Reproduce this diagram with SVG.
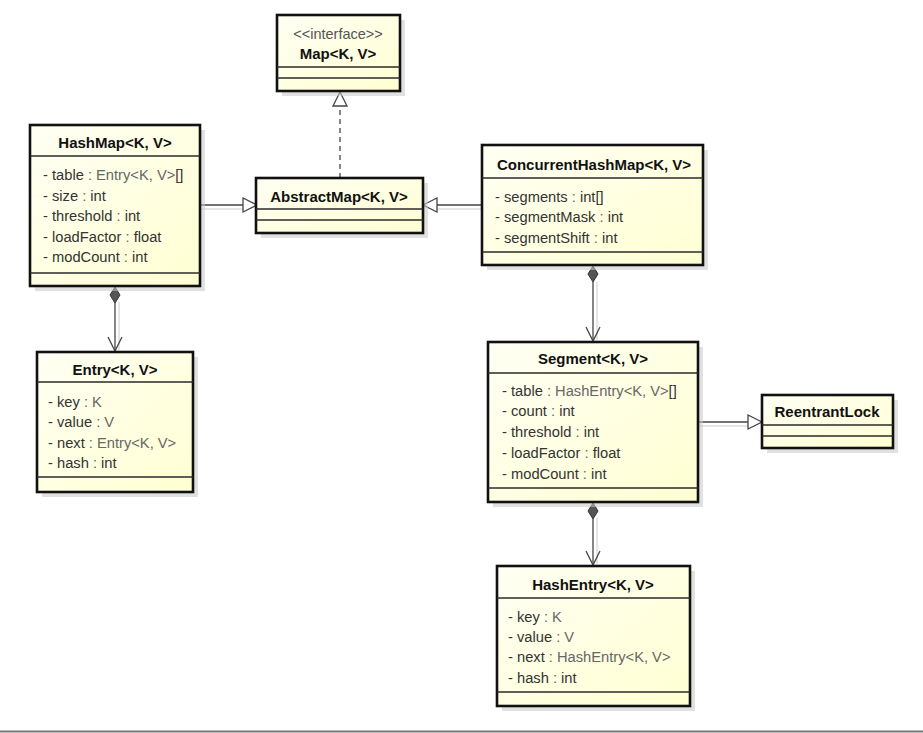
<svg xmlns="http://www.w3.org/2000/svg" width="923" height="733" viewBox="0 0 923 733">
<style>
.box{fill:url(#fill);stroke:#111;stroke-width:2.6}
.shadow{fill:#c8c8c8;opacity:0.55}
.sep{stroke:#2a2a2a;stroke-width:1.4}
.t{font-family:"Liberation Sans",Arial,sans-serif;font-size:15px;font-weight:bold;fill:#111;text-anchor:middle}
.st{font-family:"Liberation Sans",Arial,sans-serif;font-size:14.5px;fill:#555;text-anchor:middle}
.a{font-family:"Liberation Sans",Arial,sans-serif;font-size:14.7px;fill:#333}
.g{fill:#666}
.ln{stroke:#444;stroke-width:1.3;fill:none}
.lsh{stroke:#dcdcdc;stroke-width:1.5;fill:none}
.gen{fill:#fff;stroke:#444;stroke-width:1.3}
.dia{fill:#555;stroke:#333;stroke-width:1}
</style>
<defs>
<linearGradient id="fill" x1="0" y1="0" x2="1" y2="1">
<stop offset="0" stop-color="#fffff4"/>
<stop offset="1" stop-color="#ffffd2"/>
</linearGradient>
</defs>
<rect x="0" y="0" width="923" height="733" fill="#fff"/>

<g id="connectors">
<line class="lsh" x1="200" y1="209" x2="243" y2="209"/>
<line class="lsh" x1="437" y1="209" x2="482" y2="209"/>
<line class="lsh" x1="119" y1="302" x2="119" y2="350"/>
<line class="lsh" x1="597" y1="282" x2="597" y2="340"/>
<line class="lsh" x1="597" y1="518" x2="597" y2="564"/>
<line class="lsh" x1="698" y1="426" x2="748" y2="426"/>
<line class="ln" x1="340" y1="178" x2="340" y2="106" stroke-dasharray="5,4"/>
<polygon class="gen" points="340,92 333,106 347,106"/>
<line class="ln" x1="200" y1="205" x2="243" y2="205"/>
<polygon class="gen" points="257,205 243,198 243,212"/>
<line class="ln" x1="482" y1="205" x2="437" y2="205"/>
<polygon class="gen" points="423,205 437,198 437,212"/>
<polygon class="dia" points="115,287 120,295 115,303 110,295"/>
<line class="ln" x1="115" y1="303" x2="115" y2="351"/>
<polyline class="ln" points="108,337 115,351 122,337"/>
<polygon class="dia" points="593,266 598,274 593,282 588,274"/>
<line class="ln" x1="593" y1="282" x2="593" y2="341"/>
<polyline class="ln" points="586,327 593,341 600,327"/>
<polygon class="dia" points="593,503 598,511 593,519 588,511"/>
<line class="ln" x1="593" y1="519" x2="593" y2="565"/>
<polyline class="ln" points="586,551 593,565 600,551"/>
<line class="ln" x1="698" y1="422" x2="748" y2="422"/>
<polygon class="gen" points="762,422 748,415 748,429"/>
</g>

<g id="map">
<rect class="shadow" x="282" y="20" width="123" height="76"/>
<rect class="box" x="277" y="15" width="123" height="76"/>
<line class="sep" x1="277" y1="67" x2="400" y2="67"/>
<line class="sep" x1="277" y1="78" x2="400" y2="78"/>
<text class="st" x="338" y="39">&lt;&lt;interface&gt;&gt;</text>
<text class="t" x="338" y="59">Map&lt;K, V&gt;</text>
</g>

<g id="hashmap">
<rect class="shadow" x="35" y="130" width="170" height="161"/>
<rect class="box" x="30" y="125" width="170" height="161"/>
<line class="sep" x1="30" y1="156" x2="200" y2="156"/>
<line class="sep" x1="30" y1="273" x2="200" y2="273"/>
<text class="t" x="115" y="148">HashMap&lt;K, V&gt;</text>
<text class="a" x="43" y="180">- table <tspan class="g">: Entry&lt;K, V&gt;</tspan>[]</text>
<text class="a" x="43" y="201">- size <tspan class="g">:</tspan> int</text>
<text class="a" x="43" y="221">- threshold <tspan class="g">:</tspan> int</text>
<text class="a" x="43" y="242">- loadFactor <tspan class="g">:</tspan> float</text>
<text class="a" x="43" y="262">- modCount <tspan class="g">:</tspan> int</text>
</g>

<g id="abstractmap">
<rect class="shadow" x="261" y="183" width="167" height="55"/>
<rect class="box" x="256" y="178" width="167" height="55"/>
<line class="sep" x1="256" y1="209" x2="423" y2="209"/>
<line class="sep" x1="256" y1="220" x2="423" y2="220"/>
<text class="t" x="339" y="202">AbstractMap&lt;K, V&gt;</text>
</g>

<g id="concurrenthashmap">
<rect class="shadow" x="487" y="150" width="221" height="120"/>
<rect class="box" x="482" y="145" width="221" height="120"/>
<line class="sep" x1="482" y1="178" x2="703" y2="178"/>
<line class="sep" x1="482" y1="252" x2="703" y2="252"/>
<text class="t" x="594" y="170">ConcurrentHashMap&lt;K, V&gt;</text>
<text class="a" x="495" y="202">- segments <tspan class="g">:</tspan> int[]</text>
<text class="a" x="495" y="222">- segmentMask <tspan class="g">:</tspan> int</text>
<text class="a" x="495" y="243">- segmentShift <tspan class="g">:</tspan> int</text>
</g>

<g id="entry">
<rect class="shadow" x="42" y="357" width="156" height="140"/>
<rect class="box" x="37" y="352" width="156" height="140"/>
<line class="sep" x1="37" y1="382" x2="193" y2="382"/>
<line class="sep" x1="37" y1="477" x2="193" y2="477"/>
<text class="t" x="115" y="375">Entry&lt;K, V&gt;</text>
<text class="a" x="48" y="407">- key <tspan class="g">: K</tspan></text>
<text class="a" x="48" y="427">- value <tspan class="g">: V</tspan></text>
<text class="a" x="48" y="448">- next <tspan class="g">: Entry&lt;K, V&gt;</tspan></text>
<text class="a" x="48" y="468">- hash <tspan class="g">:</tspan> int</text>
</g>

<g id="segment">
<rect class="shadow" x="493" y="347" width="210" height="160"/>
<rect class="box" x="488" y="342" width="210" height="160"/>
<line class="sep" x1="488" y1="373" x2="698" y2="373"/>
<line class="sep" x1="488" y1="488" x2="698" y2="488"/>
<text class="t" x="593" y="364">Segment&lt;K, V&gt;</text>
<text class="a" x="502" y="396">- table <tspan class="g">: HashEntry&lt;K, V&gt;</tspan>[]</text>
<text class="a" x="502" y="416">- count <tspan class="g">:</tspan> int</text>
<text class="a" x="502" y="437">- threshold <tspan class="g">:</tspan> int</text>
<text class="a" x="502" y="458">- loadFactor <tspan class="g">:</tspan> float</text>
<text class="a" x="502" y="479">- modCount <tspan class="g">:</tspan> int</text>
</g>

<g id="reentrantlock">
<rect class="shadow" x="767" y="400" width="131" height="53"/>
<rect class="box" x="762" y="395" width="131" height="53"/>
<line class="sep" x1="762" y1="425" x2="893" y2="425"/>
<line class="sep" x1="762" y1="436" x2="893" y2="436"/>
<text class="t" x="827" y="417">ReentrantLock</text>
</g>

<g id="hashentry">
<rect class="shadow" x="502" y="571" width="193" height="140"/>
<rect class="box" x="497" y="566" width="193" height="140"/>
<line class="sep" x1="497" y1="598" x2="690" y2="598"/>
<line class="sep" x1="497" y1="692" x2="690" y2="692"/>
<text class="t" x="593" y="590">HashEntry&lt;K, V&gt;</text>
<text class="a" x="508" y="622">- key <tspan class="g">: K</tspan></text>
<text class="a" x="508" y="642">- value <tspan class="g">: V</tspan></text>
<text class="a" x="508" y="662">- next <tspan class="g">: HashEntry&lt;K, V&gt;</tspan></text>
<text class="a" x="508" y="683">- hash <tspan class="g">:</tspan> int</text>
</g>

<line x1="0" y1="731.5" x2="923" y2="731.5" stroke="#777" stroke-width="2"/>
</svg>
